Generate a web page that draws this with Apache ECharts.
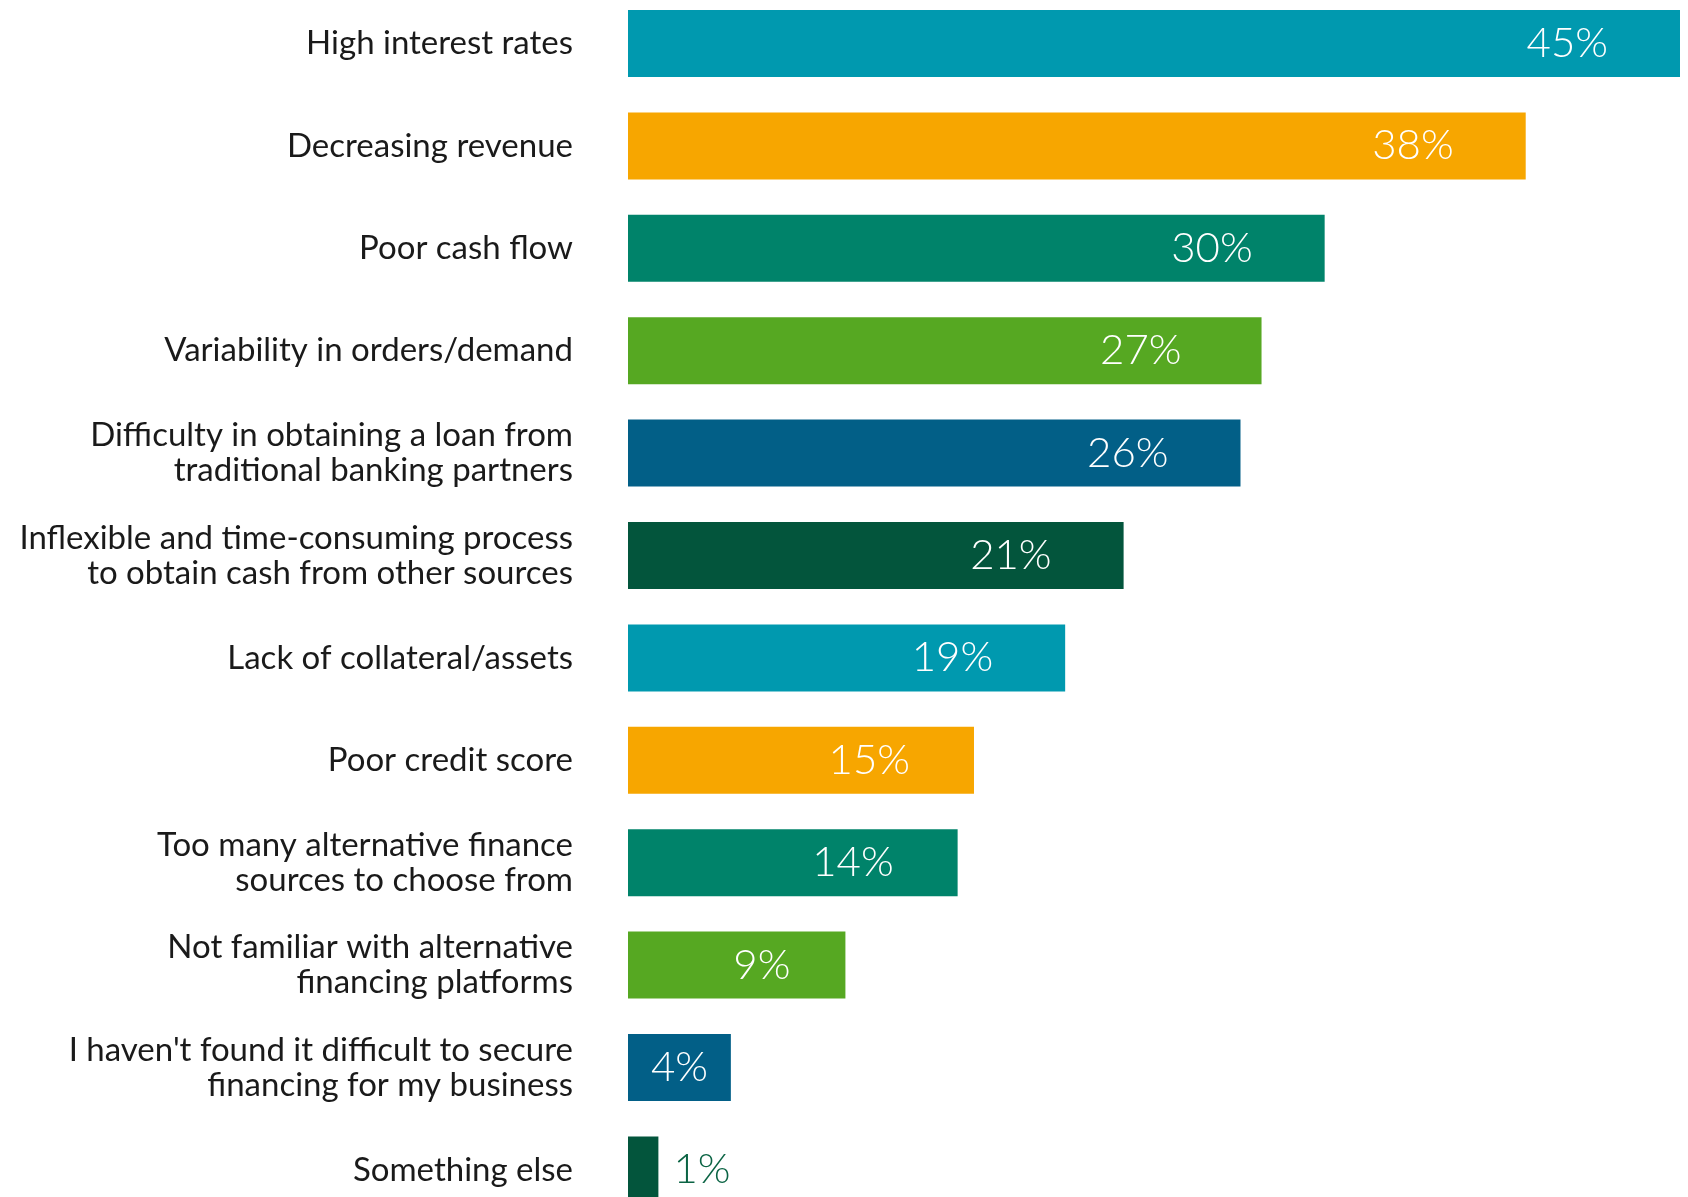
<!DOCTYPE html>
<html>
<head>
<meta charset="utf-8">
<script src="https://cdn.jsdelivr.net/npm/echarts@6/dist/echarts.min.js"></script>
<style>
html,body{margin:0;padding:0;background:#fff;}
#chart{width:1688px;height:1197px;}
</style>
</head>
<body>
<div id="chart"></div>
<script>
var categories = [
  "High interest rates",
  "Decreasing revenue",
  "Poor cash flow",
  "Variability in orders/demand",
  "Difficulty in obtaining a loan from\ntraditional banking partners",
  "Inflexible and time-consuming process\nto obtain cash from other sources",
  "Lack of collateral/assets",
  "Poor credit score",
  "Too many alternative finance\nsources to choose from",
  "Not familiar with alternative\nfinancing platforms",
  "I haven't found it difficult to secure\nfinancing for my business",
  "Something else"
];
var values = [45, 38.4, 29.8, 27.1, 26.2, 21.2, 18.7, 14.8, 14.1, 9.3, 4.4, 1.3];
var valueLabels = ["45%", "38%", "30%", "27%", "26%", "21%", "19%", "15%", "14%", "9%", "4%", "1%"];
var palette = ["#0099AF", "#F7A600", "#00836A", "#56A822", "#025F87", "#03553C"];

var data = values.map(function (v, i) {
  var lbl;
  if (v < 2) {
    lbl = { position: "right", distance: 15, color: "#0B6444" };
  } else if (v < 6) {
    lbl = { position: "inside" };
  } else if (v < 10) {
    lbl = { position: "insideRight", distance: 55 };
  } else if (v < 17) {
    lbl = { position: "insideRight", distance: 64 };
  } else if (v > 27 && v < 28) {
    lbl = { position: "insideRight", distance: 80 };
  } else {
    lbl = { position: "insideRight", distance: 72 };
  }
  return { value: v, itemStyle: { color: palette[i % palette.length] }, label: lbl };
});

var chart = echarts.init(document.getElementById("chart"), null, { renderer: "canvas" });
chart.setOption({
  animation: false,
  backgroundColor: "#ffffff",
  grid: { left: 628, width: 1052, top: -7.7, height: 1228.8, containLabel: false, outerBoundsMode: "none" },
  xAxis: {
    type: "value", min: 0, max: 45,
    show: false,
    splitLine: { show: false }
  },
  yAxis: {
    type: "category",
    data: categories,
    inverse: true,
    axisLine: { show: false },
    axisTick: { show: false },
    axisLabel: {
      margin: 55,
      fontFamily: "Lato",
      fontSize: 33,
      lineHeight: 35,
      color: "#1a1a1a",
      align: "right"
    }
  },
  series: [{
    type: "bar",
    data: data,
    barWidth: 67,
    label: {
      show: true,
      fontFamily: "Lato",
      fontWeight: 300,
      fontSize: 42,
      color: "#ffffff",
      formatter: function (p) { return valueLabels[p.dataIndex]; }
    }
  }]
});
</script>
</body>
</html>
